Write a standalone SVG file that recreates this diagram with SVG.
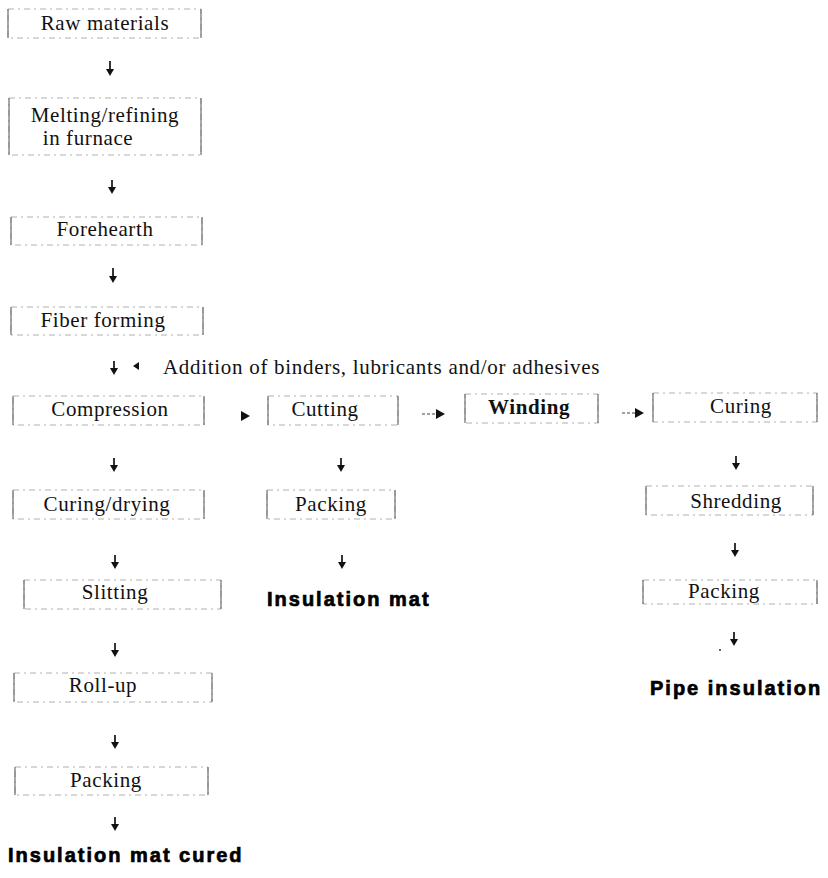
<svg xmlns="http://www.w3.org/2000/svg" width="828" height="878" viewBox="0 0 828 878">
<defs>
<style>
.bx{fill:none;stroke:#b0b0b0;stroke-width:1;stroke-dasharray:6 4 2 4}
.sd{fill:none;stroke:#707070;stroke-width:1.2}
.t{font-family:"Liberation Serif","Times New Roman",serif;font-size:21px;letter-spacing:0.6px;fill:#111;text-anchor:middle}
.b{font-family:"Liberation Sans",Arial,sans-serif;font-size:20px;font-weight:bold;letter-spacing:2px;fill:#000;stroke:#000;stroke-width:0.7}
.ln{stroke:#111;stroke-width:1.7;fill:none}
.dl{stroke:#444;stroke-width:1.2;fill:none;stroke-dasharray:3 2}
.hd{fill:#111}
</style>
</defs>
<rect width="828" height="878" fill="#fff"/>
<g id="connectors">
<g id="a1"><line class="ln" x1="110" y1="61" x2="110" y2="70"/><polygon class="hd" points="106,69 114,69 110,76"/></g>
<g id="a2"><line class="ln" x1="112" y1="180" x2="112" y2="188"/><polygon class="hd" points="108,187 116,187 112,194"/></g>
<g id="a3"><line class="ln" x1="113" y1="268" x2="113" y2="277"/><polygon class="hd" points="109,276 117,276 113,283"/></g>
<g id="a4"><line class="ln" x1="114" y1="361" x2="114" y2="369"/><polygon class="hd" points="110,368 118,368 114,375"/></g>
<g id="a4b"><polygon class="hd" points="139,362 139,370 133,366"/></g>
<g id="a5"><polygon class="hd" points="241,411 241,421 250,416"/></g>
<g id="a6"><line class="dl" x1="422" y1="414" x2="437" y2="414"/><polygon class="hd" points="436,409 436,419 445,414"/></g>
<g id="a7"><line class="dl" x1="622" y1="413" x2="636" y2="413"/><polygon class="hd" points="635,408 635,418 644,413"/></g>
<g id="a8"><line class="ln" x1="114" y1="458" x2="114" y2="466"/><polygon class="hd" points="110,465 118,465 114,472"/></g>
<g id="a9"><line class="ln" x1="341" y1="458" x2="341" y2="466"/><polygon class="hd" points="337,465 345,465 341,472"/></g>
<g id="a10"><line class="ln" x1="736" y1="456" x2="736" y2="464"/><polygon class="hd" points="732,463 740,463 736,470"/></g>
<g id="a11"><line class="ln" x1="115" y1="555" x2="115" y2="563"/><polygon class="hd" points="111,562 119,562 115,569"/></g>
<g id="a12"><line class="ln" x1="342" y1="555" x2="342" y2="563"/><polygon class="hd" points="338,562 346,562 342,569"/></g>
<g id="a13"><line class="ln" x1="735" y1="543" x2="735" y2="551"/><polygon class="hd" points="731,550 739,550 735,557"/></g>
<g id="a14"><line class="ln" x1="115" y1="643" x2="115" y2="651"/><polygon class="hd" points="111,650 119,650 115,657"/></g>
<g id="a15"><line class="ln" x1="734" y1="632" x2="734" y2="640"/><polygon class="hd" points="730,639 738,639 734,646"/><circle cx="720" cy="650" r="1" fill="#333"/></g>
<g id="a16"><line class="ln" x1="115" y1="735" x2="115" y2="743"/><polygon class="hd" points="111,742 119,742 115,749"/></g>
<g id="a17"><line class="ln" x1="115" y1="817" x2="115" y2="825"/><polygon class="hd" points="111,824 119,824 115,831"/></g>
</g>
<g id="n1"><rect class="bx" x="8" y="9" width="193" height="29"/><path class="sd" d="M8,9V38M201,9V38"/><text class="t" x="105" y="30">Raw materials</text></g>
<g id="n2"><rect class="bx" x="9" y="98" width="192" height="57"/><path class="sd" d="M9,98V155M201,98V155"/><text class="t" x="105" y="122">Melting/refining</text><text class="t" x="88" y="145">in furnace</text></g>
<g id="n3"><rect class="bx" x="11" y="217" width="191" height="28"/><path class="sd" d="M11,217V245M202,217V245"/><text class="t" x="105" y="236">Forehearth</text></g>
<g id="n4"><rect class="bx" x="11" y="307" width="192" height="28"/><path class="sd" d="M11,307V335M203,307V335"/><text class="t" x="103" y="327">Fiber forming</text></g>
<g id="addl"><text class="t" x="163" y="374" style="text-anchor:start" textLength="437">Addition of binders, lubricants and/or adhesives</text></g>
<g id="n5"><rect class="bx" x="13" y="396" width="191" height="29"/><path class="sd" d="M13,396V425M204,396V425"/><text class="t" x="110" y="416">Compression</text></g>
<g id="n6"><rect class="bx" x="268" y="396" width="130" height="29"/><path class="sd" d="M268,396V425M398,396V425"/><text class="t" x="325" y="416">Cutting</text></g>
<g id="n7"><rect class="bx" x="465" y="394" width="133" height="29"/><path class="sd" d="M465,394V423M598,394V423"/><text class="t" x="529" y="414" font-weight="bold">Winding</text></g>
<g id="n8"><rect class="bx" x="653" y="393" width="164" height="29"/><path class="sd" d="M653,393V422M817,393V422"/><text class="t" x="741" y="413">Curing</text></g>
<g id="n9"><rect class="bx" x="13" y="490" width="191" height="29"/><path class="sd" d="M13,490V519M204,490V519"/><text class="t" x="107" y="511">Curing/drying</text></g>
<g id="n10"><rect class="bx" x="267" y="490" width="128" height="29"/><path class="sd" d="M267,490V519M395,490V519"/><text class="t" x="331" y="511">Packing</text></g>
<g id="n11"><rect class="bx" x="646" y="486" width="167" height="29"/><path class="sd" d="M646,486V515M813,486V515"/><text class="t" x="736" y="508">Shredding</text></g>
<g id="n12"><rect class="bx" x="24" y="580" width="197" height="29"/><path class="sd" d="M24,580V609M221,580V609"/><text class="t" x="115" y="599">Slitting</text></g>
<g id="n13"><rect class="bx" x="643" y="580" width="174" height="24"/><path class="sd" d="M643,580V604M817,580V604"/><text class="t" x="724" y="598">Packing</text></g>
<g id="n14"><rect class="bx" x="14" y="673" width="198" height="29"/><path class="sd" d="M14,673V702M212,673V702"/><text class="t" x="103" y="692">Roll-up</text></g>
<g id="n15"><rect class="bx" x="15" y="767" width="193" height="28"/><path class="sd" d="M15,767V795M208,767V795"/><text class="t" x="106" y="787">Packing</text></g>
<g id="o1"><text class="b" x="267" y="606">Insulation mat</text></g>
<g id="o2"><text class="b" x="650" y="695">Pipe insulation</text></g>
<g id="o3"><text class="b" x="8" y="862">Insulation mat cured</text></g>
</svg>
